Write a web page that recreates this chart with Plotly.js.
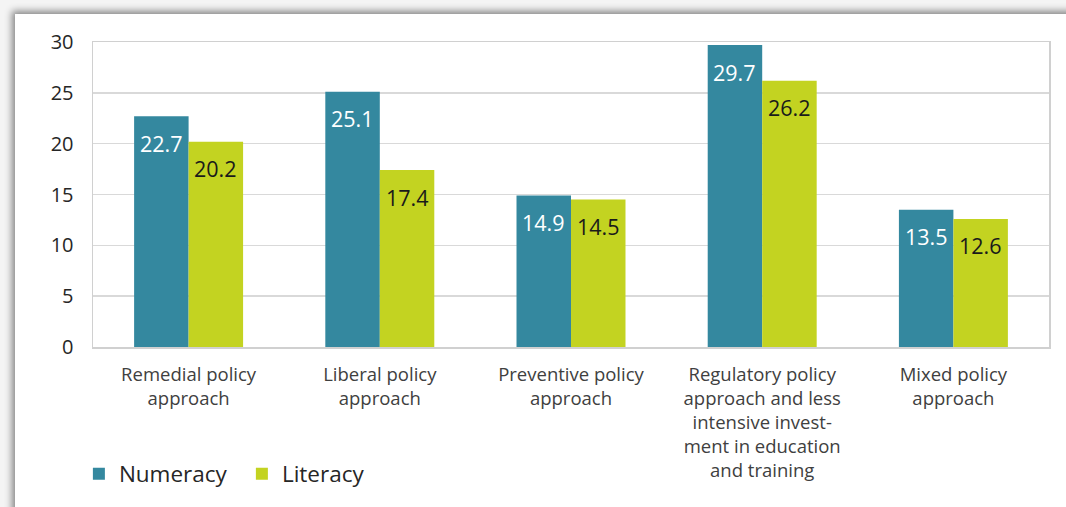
<!DOCTYPE html>
<html>
<head>
<meta charset="utf-8">
<script src="https://cdn.plot.ly/plotly-3.0.1.min.js"></script>
<style>
html,body{margin:0;padding:0;width:1066px;height:507px;overflow:hidden;background:#f4f4f4;}
#frame{position:absolute;left:15px;top:14px;width:1100px;height:560px;background:#fff;box-shadow:-3px -3px 7px rgba(0,0,0,0.45);}
#chart{position:absolute;left:0;top:0;width:1066px;height:507px;}
</style>
</head>
<body>
<div id="frame"></div>
<div id="chart"></div>
<script>
const categories = [
  "Remedial policy<br>approach",
  "Liberal policy<br>approach",
  "Preventive policy<br>approach",
  "Regulatory policy<br>approach and less<br>intensive invest-<br>ment in education<br>and training",
  "Mixed policy<br>approach"
];
const numeracy = [22.7, 25.1, 14.9, 29.7, 13.5];
const literacy = [20.2, 17.4, 14.5, 26.2, 12.6];
const yTicks = [0, 5, 10, 15, 20, 25, 30];

const FONT = "'Open Sans', 'Noto Sans', sans-serif";
const teal = "#34889f";
const lime = "#c3d321";

const traces = [
  {type: "bar", name: "Numeracy", x: categories, y: numeracy, marker: {color: teal}, hoverinfo: "none"},
  {type: "bar", name: "Literacy", x: categories, y: literacy, marker: {color: lime}, hoverinfo: "none"}
];

const annotations = [];
numeracy.forEach((v, i) => annotations.push({
  x: categories[i], y: v, xref: "x", yref: "y", text: v.toFixed(1), showarrow: false,
  xshift: -27.3, yshift: -27, font: {family: FONT, size: 21.5, color: "#ffffff"}
}));
literacy.forEach((v, i) => annotations.push({
  x: categories[i], y: v, xref: "x", yref: "y", text: v.toFixed(1), showarrow: false,
  xshift: 27.3, yshift: -27, font: {family: FONT, size: 21.5, color: "#1a1a1a"}
}));

const layout = {
  width: 1066, height: 507,
  paper_bgcolor: "rgba(0,0,0,0)", plot_bgcolor: "#ffffff",
  margin: {l: 93, r: 17, t: 42, b: 160},
  font: {family: FONT, color: "#262626"},
  barmode: "group", bargap: 0.43, bargroupgap: 0,
  showlegend: true,
  legend: {orientation: "h", xref: "container", yref: "container", x: 0.074, y: 0.065,
    xanchor: "left", yanchor: "middle", font: {family: FONT, size: 22.5, color: "#262626"},
    entrywidth: 118, entrywidthmode: "pixels", bgcolor: "rgba(0,0,0,0)"},
  xaxis: {tickfont: {family: FONT, size: 18.5, color: "#404040"}, showline: true, linecolor: "#d0d0d0",
    linewidth: 1.5, mirror: true, ticks: "", showgrid: false, fixedrange: true, ticklabelstandoff: 10},
  yaxis: {range: [0, 30], tickvals: yTicks, ticktext: yTicks.map(String),
    tickfont: {family: FONT, size: 20, color: "#262626"}, showgrid: true, gridcolor: "#d9d9d9", gridwidth: 1.5,
    showline: true, linecolor: "#d0d0d0", linewidth: 1.5, mirror: true, ticks: "outside", ticklen: 14,
    tickcolor: "rgba(0,0,0,0)", zeroline: false, fixedrange: true},
  annotations: annotations
};

Plotly.newPlot("chart", traces, layout, {staticPlot: true, displayModeBar: false});
</script>
</body>
</html>
